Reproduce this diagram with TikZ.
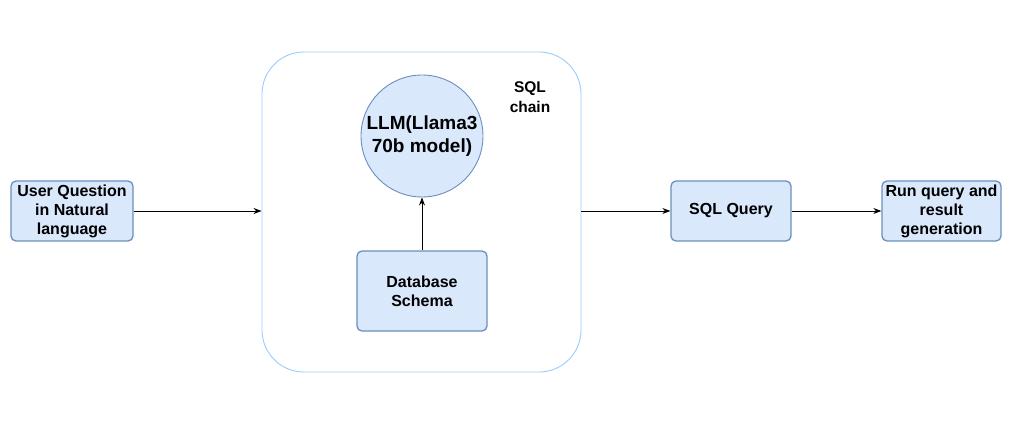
\documentclass[tikz,border=0pt]{standalone}
\usepackage{fontspec}
\setmainfont{Liberation Sans}
\usetikzlibrary{arrows.meta}
\definecolor{boxfill}{HTML}{DAE8FC}
\definecolor{boxline}{HTML}{6C8EBF}
\definecolor{contline}{HTML}{99CCFF}
\tikzset{
  procbox/.style={draw=boxline, fill=boxfill, line width=1.3pt, rounded corners=5pt, align=center, inner sep=0pt, font=\fontsize{16}{19}\selectfont\bfseries},
  conn/.style={-{Stealth[length=8pt,width=6pt]}, line width=0.9pt, black},
}
\begin{document}
\begin{tikzpicture}[x=1pt,y=-1pt]
\useasboundingbox (0,0) rectangle (1033,433);
\node[draw=contline, line width=0.9pt, rounded corners=42pt, minimum width=319pt, minimum height=320pt, inner sep=0pt] (chain) at (421.5,212) {};
\node[procbox, minimum width=122pt, minimum height=60pt] (user) at (72,211) {User Question\\in Natural\\language};
\node[circle, draw=boxline, fill=boxfill, line width=0.9pt, minimum size=122pt, inner sep=0pt, align=center, font=\fontsize{19}{23}\selectfont\bfseries] (llm) at (422,136) {LLM(Llama3\\70b model)};
\node[procbox, minimum width=130pt, minimum height=80pt] (db) at (422,291) {Database\\Schema};
\node[align=center, font=\fontsize{15.5}{20}\selectfont\bfseries, inner sep=0pt] (lbl) at (530,97) {SQL\\chain};
\node[procbox, minimum width=120pt, minimum height=60pt] (sql) at (731,211) {SQL Query};
\node[procbox, minimum width=119pt, minimum height=60pt] (run) at (941.5,211) {Run query and\\result\\generation};
\draw[conn] (user.east) -- (user.east -| chain.west);
\draw[conn] (db.north) -- (llm.south);
\draw[conn] (sql.west -| chain.east) -- (sql.west);
\draw[conn] (sql.east) -- (run.west);
\end{tikzpicture}
\end{document}
